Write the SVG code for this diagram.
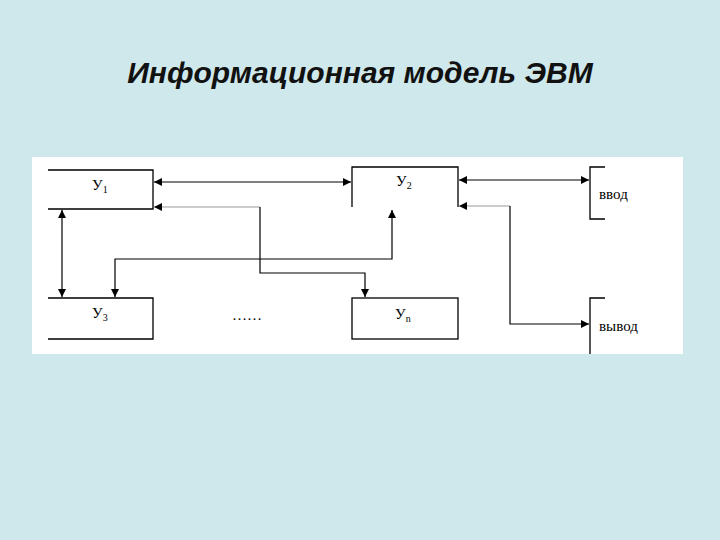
<svg xmlns="http://www.w3.org/2000/svg" width="720" height="540" viewBox="0 0 720 540">
<defs>
<marker id="ah" viewBox="0 0 10 10" refX="10" refY="5" markerWidth="7" markerHeight="7" orient="auto-start-reverse"><path d="M0,0L10,5L0,10z" fill="#000"/></marker>
<style>
.b{fill:none;stroke:#000;stroke-width:1.3}
.c{fill:none;stroke:#000;stroke-width:1.2}
.g{fill:none;stroke:#999;stroke-width:1.2}
.t{font-family:"Liberation Serif",serif;font-size:15px;fill:#000}
.s{font-size:10px}
</style>
</defs>
<rect width="720" height="540" fill="#cfe8ec"/>
<text x="360" y="83" text-anchor="middle" font-family="Liberation Sans,Arial,sans-serif" font-size="30" font-weight="bold" font-style="italic" fill="#111">Информационная модель ЭВМ</text>
<rect x="32" y="157" width="651" height="197" fill="#fff"/>
<g id="u1"><path class="b" d="M48,170H153V209H48"/><text class="t" x="92" y="190">У<tspan class="s" dy="3">1</tspan></text></g>
<g id="u2"><path class="b" d="M352,207V167H458V207"/><text class="t" x="396" y="186">У<tspan class="s" dy="3">2</tspan></text></g>
<g id="u3"><path class="b" d="M48,298H153V339H48"/><text class="t" x="92" y="318">У<tspan class="s" dy="3">3</tspan></text></g>
<g id="un"><rect class="b" x="352" y="298" width="106" height="41"/><text class="t" x="395" y="319">У<tspan class="s" dy="3">n</tspan></text></g>
<g id="dots"><text class="t" x="232" y="320" font-size="10" fill="#666">……</text></g>
<g id="in"><path class="b" d="M605,167H590V219H605"/><text class="t" x="599" y="199" font-size="13">ввод</text></g>
<g id="out"><path class="b" d="M605,298H590V354"/><text class="t" x="599" y="331" font-size="13">вывод</text></g>
<g id="connectors">
<path class="c" d="M154,182H351" marker-start="url(#ah)" marker-end="url(#ah)"/>
<path class="c" d="M459,180H589" marker-start="url(#ah)" marker-end="url(#ah)"/>
<path class="c" d="M62,210V297" marker-start="url(#ah)" marker-end="url(#ah)"/>
<path class="g" d="M260,207H154" marker-end="url(#ah)"/>
<path class="c" d="M260,207V273H365V297" marker-end="url(#ah)"/>
<path class="c" d="M115,297V259H392V210" marker-start="url(#ah)" marker-end="url(#ah)"/>
<path class="g" d="M510,206H459" marker-end="url(#ah)"/>
<path class="c" d="M510,206V324H589" marker-end="url(#ah)"/>
</g>
</svg>
